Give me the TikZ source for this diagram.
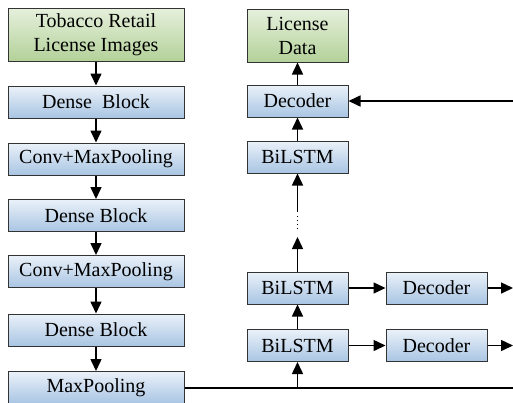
\documentclass[tikz,border=0pt]{standalone}
\usepackage{fontspec}
\setmainfont{Liberation Serif}
\usetikzlibrary{arrows.meta}
\definecolor{gtop}{HTML}{E6F0DD}
\definecolor{gbot}{HTML}{B3D199}
\definecolor{btop}{HTML}{EAF1F9}
\definecolor{bbot}{HTML}{A9C5E3}
\definecolor{edge}{HTML}{333333}
\tikzset{
  x=1pt, y=-1pt,
  every node/.style={font=\fontsize{20pt}{24pt}\selectfont, inner sep=0pt},
  bluebox/.style={draw=edge, line width=1pt, top color=btop, bottom color=bbot},
  greenbox/.style={draw=edge, line width=1pt, top color=gtop, bottom color=gbot, align=center},
  wide/.style={minimum width=176pt, minimum height=32pt},
  narrow/.style={minimum width=101pt, minimum height=32pt},
  flow/.style={line width=1.5pt, -{Triangle[width=11pt,length=12pt]}},
  plain/.style={line width=1.5pt}
}
\begin{document}
\begin{tikzpicture}
\useasboundingbox (0,0) rectangle (513,402);
\clip (0,0) rectangle (513,402);
% left column: image feature extractor
\node[greenbox, minimum width=176pt, minimum height=53pt] (img) at (96,34.5) {Tobacco Retail\\License Images};
\node[bluebox, wide] (d1) at (96,102) {Dense\ \ Block};
\node[bluebox, wide] (c1) at (96,159) {Conv+MaxPooling};
\node[bluebox, wide] (d2) at (96,215.5) {Dense Block};
\node[bluebox, wide] (c2) at (96,271.5) {Conv+MaxPooling};
\node[bluebox, wide] (d3) at (96,330) {Dense Block};
\node[bluebox, wide] (mp) at (96,387.5) {MaxPooling};
% right column: recurrent decoder stack
\node[greenbox, minimum width=101pt, minimum height=53pt] (out) at (297.5,35.5) {License\\Data};
\node[bluebox, narrow] (dec) at (297.5,101) {Decoder};
\node[bluebox, narrow] (b3) at (297.5,157) {BiLSTM};
\node[bluebox, narrow] (b2) at (297.5,288) {BiLSTM};
\node[bluebox, narrow] (b1) at (297.5,345.5) {BiLSTM};
\node[bluebox, narrow] (dec2) at (436.5,288) {Decoder};
\node[bluebox, narrow] (dec1) at (436.5,345.5) {Decoder};
\coordinate (dotlo) at (297.5,237);
\coordinate (dothi) at (297.5,212);
\coordinate (feed) at (297.5,388);
\coordinate (rbot) at (513,388);
\coordinate (rtop) at (513,101);
\coordinate (r2) at (513,288);
\coordinate (r1) at (513,345.5);
% connectors
\draw[flow] (img) -- (d1);
\draw[flow] (d1) -- (c1);
\draw[flow] (c1) -- (d2);
\draw[flow] (d2) -- (c2);
\draw[flow] (c2) -- (d3);
\draw[flow] (d3) -- (mp);
\draw[plain] (mp.east |- rbot) -- (rbot);
\draw[flow] (feed) -- (b1);
\draw[flow] (b1) -- (b2);
\draw[flow] (b2) -- (dotlo);
\draw[line width=1.3pt, dash pattern=on 1pt off 3pt] (297.5,216) -- (297.5,231);
\draw[flow] (dothi) -- (b3);
\draw[flow] (b3) -- (dec);
\draw[flow] (dec) -- (out);
\draw[flow] (rtop) -- (dec);
\draw[flow] (b2) -- (dec2);
\draw[flow] (b1) -- (dec1);
\draw[flow] (dec2) -- (r2);
\draw[flow] (dec1) -- (r1);
\end{tikzpicture}
\end{document}
